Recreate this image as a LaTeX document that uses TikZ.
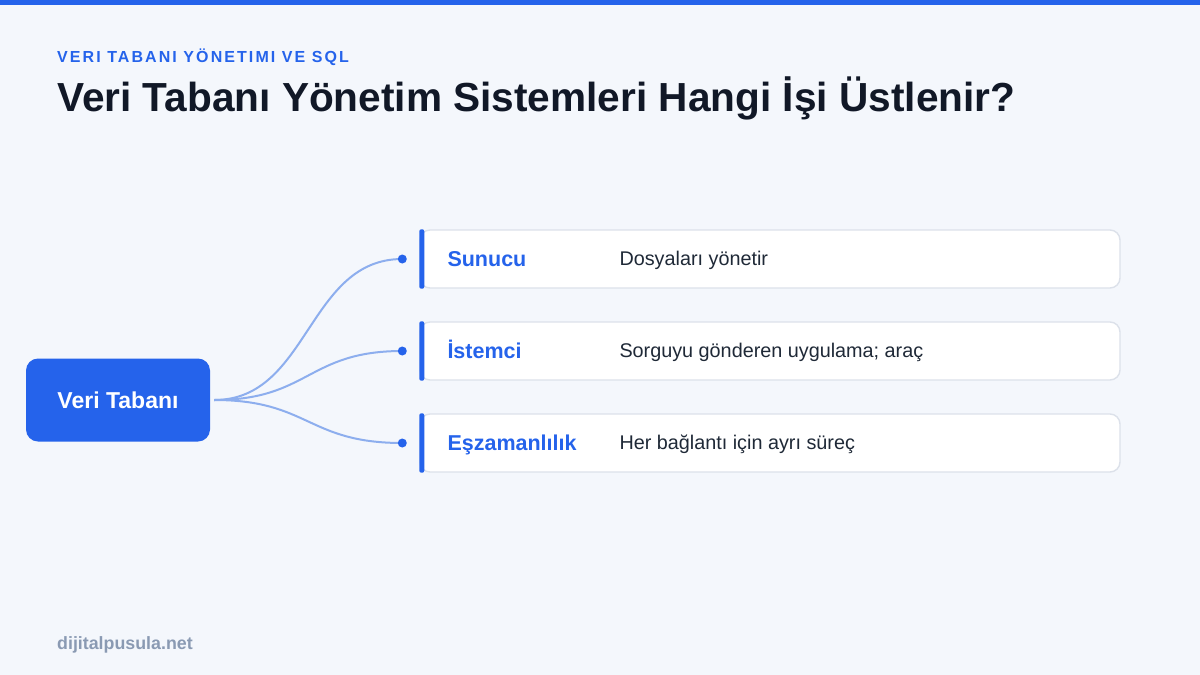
\documentclass[tikz,border=0pt]{standalone}
\usepackage{fontspec}
\setmainfont{Liberation Sans}
\usetikzlibrary{positioning}
\definecolor{brand}{HTML}{2563EB}
\definecolor{pagebg}{HTML}{F4F7FC}
\definecolor{ink}{HTML}{111827}
\definecolor{bodyink}{HTML}{1F2937}
\definecolor{cardline}{HTML}{DCE1EA}
\definecolor{linkblue}{HTML}{8DAEEE}
\definecolor{footgrey}{HTML}{8A9AB3}
\begin{document}
\begin{tikzpicture}[x=1pt,y=-1pt,
    rootbox/.style={fill=brand,rounded corners=12pt,minimum width=184pt,minimum height=83pt,
        text=white,font=\bfseries\fontsize{23}{27}\selectfont},
    card/.style={draw=cardline,line width=1.4pt,fill=white,rounded corners=10pt,
        minimum width=700pt,minimum height=58pt},
    cardlabel/.style={anchor=base west,text=brand,font=\bfseries\fontsize{21.5}{25}\selectfont,inner sep=0pt},
    carddesc/.style={anchor=base west,text=bodyink,font=\fontsize{19.8}{23}\selectfont,inner sep=0pt},
    dot/.style={circle,fill=brand,minimum size=9pt,inner sep=0pt},
    link/.style={linkblue,line width=2pt}]
    \fill[pagebg] (0,0) rectangle (1200,675);
    \fill[brand] (0,0) rectangle (1200,5);
    \node[anchor=base west,inner sep=0pt,text=brand,
        font=\bfseries\fontsize{16}{20}\selectfont\addfontfeature{LetterSpace=13}] (kicker) at (57,62) {VERI TABANI YÖNETIMI VE SQL};
    \node[anchor=base west,inner sep=0pt,text=ink,font=\bfseries\fontsize{40.6}{46}\selectfont] (title) at (57,111)
        {Veri Tabanı Yönetim Sistemleri Hangi İşi Üstlenir?};
    \node[rootbox] (db) at (118,400) {Veri Tabanı};
    % cards with their connectors
    \foreach \name/\y/\lbl/\desc in {server/259/Sunucu/Dosyaları yönetir,
            client/351/İstemci/Sorguyu gönderen uygulama; araç,
            conc/443/Eşzamanlılık/Her bağlantı için ayrı süreç}{
        \node[card] (\name) at (770,\y) {};
        \fill[brand,rounded corners=2pt] (\name.north west) rectangle ([xshift=5pt]\name.south west);
        \node[cardlabel] (\name-lbl) at ([xshift=28pt,yshift=-7.5pt]\name.west) {\lbl};
        \node[carddesc] (\name-desc) at ([xshift=200pt,yshift=-6.5pt]\name.west) {\desc};
        \coordinate (\name-end) at ([xshift=-17pt]\name.west);
        \draw[link] ([xshift=4pt]db.east) .. controls +(95,0) and +(-95,0) .. (\name-end);
        \node[dot] (\name-dot) at (\name-end) {};
    }
    \node[anchor=base west,inner sep=0pt,text=footgrey,font=\bfseries\fontsize{17.8}{21}\selectfont] (foot) at (57,649) {dijitalpusula.net};
\end{tikzpicture}
\end{document}
